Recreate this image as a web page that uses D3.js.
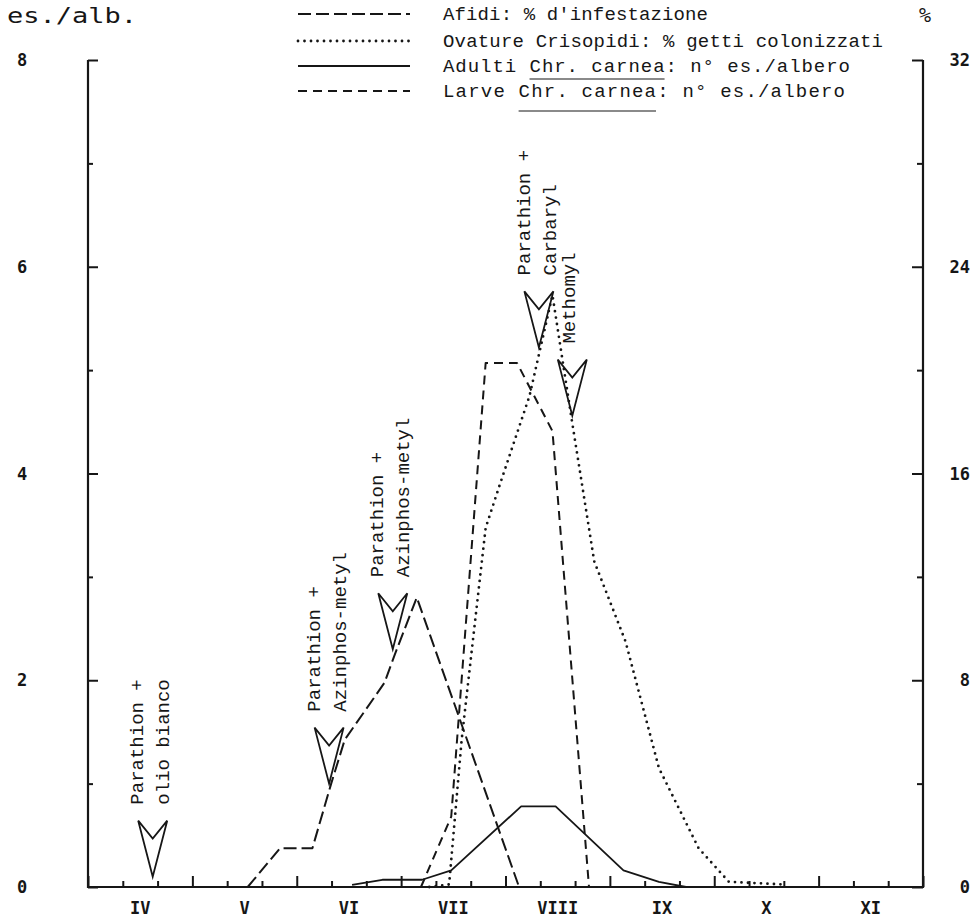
<!DOCTYPE html>
<html>
<head>
<meta charset="utf-8">
<script src="https://cdn.jsdelivr.net/npm/d3@7/dist/d3.min.js"></script>
<style>
  html, body { margin: 0; padding: 0; background: #fff; }
  svg { display: block; }
</style>
</head>
<body>
<svg id="chart" width="973" height="919"></svg>
<script>
// ---------------- DATA ----------------
// x values: month number (4 = 1 April ... 12 = 1 December)
const monthLabels = ["IV", "V", "VI", "VII", "VIII", "IX", "X", "XI"];
const leftTicks = [0, 2, 4, 6, 8];
const rightTicks = [0, 8, 16, 24, 32];

// Afidi: % d'infestazione (right axis, %)
const afidiX = [5.53, 5.84, 6.15, 6.33, 6.46, 6.84, 6.94, 7.15, 8.13];
const afidiY = [0, 1.5, 1.5, 4.0, 5.7, 7.9, 9.0, 11.2, 0];

// Ovature Crisopidi: % getti colonizzati (right axis, %)
const ovatureX = [7.27, 7.46, 7.58, 7.81, 7.94, 8.23, 8.45, 8.63, 8.85, 9.15, 9.47, 9.85, 10.14, 10.66];
const ovatureY = [0, 0.1, 5.7, 13.9, 15.5, 19.0, 22.9, 18.2, 12.6, 9.5, 4.6, 1.5, 0.2, 0.1];

// Adulti Chr. carnea: n° es./albero (left axis)
const adultiX = [6.53, 6.82, 7.20, 7.48, 8.15, 8.48, 9.13, 9.47, 9.73];
const adultiY = [0.02, 0.07, 0.07, 0.16, 0.78, 0.78, 0.16, 0.05, 0.0];

// Larve Chr. carnea: n° es./albero (left axis)
const larveX = [7.19, 7.48, 7.81, 8.11, 8.45, 8.80];
const larveY = [0, 0.68, 5.07, 5.07, 4.41, 0];

// Treatments (arrow tip position: month, left-axis value)
const treatX = [4.62, 6.31, 6.92, 8.32, 8.64];
const treatTip = [0.1, 1.0, 2.3, 5.22, 4.56];
const treatLine1 = ["Parathion +", "Parathion +", "Parathion +", "Parathion +", "Methomyl"];
const treatLine2 = ["olio bianco", "Azinphos-metyl", "Azinphos-metyl", "Carbaryl", ""];

const legendLabels = [
  ["Afidi: % d'infestazione"],
  ["Ovature Crisopidi: % getti colonizzati"],
  ["Adulti ", "Chr. carnea", ": n° es./albero"],
  ["Larve ", "Chr. carnea", ": n° es./albero"]
];

// ---------------- LAYOUT ----------------
const svg = d3.select("#chart");
const X0 = 88, X1 = 923, Y0 = 887, Y1 = 60;
const x = d3.scaleLinear().domain([4, 12]).range([X0, X1]);
const yL = d3.scaleLinear().domain([0, 8]).range([Y0, Y1]);
const yR = d3.scaleLinear().domain([0, 32]).range([Y0, Y1]);

const ink = "#161616";
const monoB = "'DejaVu Sans Mono', monospace";
const typeW = "'Liberation Mono', 'Courier New', monospace";

svg.append("rect").attr("width", 973).attr("height", 919).attr("fill", "#fff");

// ---------------- AXES ----------------
const gL = svg.append("g").attr("transform", `translate(${X0},0)`)
  .call(d3.axisRight(yL).tickValues(d3.range(0, 9, 1)).tickSize(0).tickFormat(""));
gL.select(".domain").remove();
gL.selectAll(".tick line").attr("x2", d => d % 2 === 0 ? 10 : 5)
  .attr("stroke", ink).attr("stroke-width", 2);

const gR = svg.append("g").attr("transform", `translate(${X1},0)`)
  .call(d3.axisLeft(yR).tickValues(d3.range(0, 33, 4)).tickSize(0).tickFormat(""));
gR.select(".domain").remove();
gR.selectAll(".tick line").attr("x2", d => d % 8 === 0 ? -11 : -6)
  .attr("stroke", ink).attr("stroke-width", 2);

const gX = svg.append("g").attr("transform", `translate(0,${Y0})`)
  .call(d3.axisTop(x).tickValues(d3.range(4, 12.01, 1 / 3)).tickSize(0).tickFormat(""));
gX.select(".domain").remove();
gX.selectAll(".tick line").attr("y2", d => Math.abs(d - Math.round(d)) < 0.01 ? -11 : -6)
  .attr("stroke", ink).attr("stroke-width", 2);

// frame lines (left, bottom, right)
svg.append("path")
  .attr("d", `M${X0},${Y1}V${Y0}H${X1}V${Y1}`)
  .attr("fill", "none").attr("stroke", ink).attr("stroke-width", 2.2);

// tick labels
svg.append("g").selectAll("text").data(leftTicks).join("text")
  .attr("x", 22).attr("y", d => yL(d)).attr("dy", "0.36em")
  .attr("text-anchor", "middle")
  .attr("font-family", monoB).attr("font-weight", "bold").attr("font-size", 17)
  .attr("fill", ink).text(d => d);

svg.append("g").selectAll("text").data(rightTicks).join("text")
  .attr("x", 970).attr("y", d => yR(d)).attr("dy", "0.36em")
  .attr("text-anchor", "end")
  .attr("font-family", monoB).attr("font-weight", "bold").attr("font-size", 17)
  .attr("fill", ink).text(d => d);

svg.append("g").selectAll("text").data(monthLabels).join("text")
  .attr("x", (d, i) => x(4.5 + i)).attr("y", 914)
  .attr("text-anchor", "middle")
  .attr("font-family", monoB).attr("font-weight", "bold").attr("font-size", 17)
  .attr("fill", ink).text(d => d);

// axis titles
svg.append("text").attr("x", 7).attr("y", 23)
  .attr("font-family", monoB).attr("font-size", 21)
  .attr("textLength", 130).attr("lengthAdjust", "spacingAndGlyphs")
  .attr("fill", ink).text("es./alb.");
svg.append("text").attr("x", 925).attr("y", 22).attr("text-anchor", "middle")
  .attr("font-family", monoB).attr("font-size", 20)
  .attr("fill", ink).text("%");

// ---------------- SERIES ----------------
function drawSeries(xs, ys, yScale, dash, width, cap) {
  const pts = xs.map((v, i) => [v, ys[i]]);
  const line = d3.line().x(d => x(d[0])).y(d => yScale(d[1]));
  svg.append("path").datum(pts)
    .attr("d", line)
    .attr("fill", "none")
    .attr("stroke", ink)
    .attr("stroke-width", width)
    .attr("stroke-linecap", cap || "butt")
    .attr("stroke-linejoin", "round")
    .attr("stroke-dasharray", dash);
}
const styles = [
  { dash: "13,5", w: 2, cap: "butt" },     // Afidi
  { dash: "0,6.5", w: 2.8, cap: "round" },  // Ovature
  { dash: null, w: 1.8, cap: "butt" },     // Adulti
  { dash: "9,6", w: 2, cap: "butt" }       // Larve
];
drawSeries(afidiX, afidiY, yR, styles[0].dash, styles[0].w, styles[0].cap);
drawSeries(ovatureX, ovatureY, yR, styles[1].dash, styles[1].w, styles[1].cap);
drawSeries(adultiX, adultiY, yL, styles[2].dash, styles[2].w, styles[2].cap);
drawSeries(larveX, larveY, yL, styles[3].dash, styles[3].w, styles[3].cap);

// ---------------- TREATMENT ARROWS ----------------
const arrowW = 14.5, arrowH = 56, notch = 38;
treatX.forEach((tx, i) => {
  const px = x(tx), py = yL(treatTip[i]);
  svg.append("path")
    .attr("d", `M${px - arrowW},${py - arrowH}L${px},${py}L${px + arrowW},${py - arrowH}L${px},${py - notch}Z`)
    .attr("fill", "none").attr("stroke", ink).attr("stroke-width", 1.8)
    .attr("stroke-linejoin", "miter");
  const bottom = py - arrowH - 16;
  const lines = treatLine2[i] ? [[treatLine1[i], -16], [treatLine2[i], 10]] : [[treatLine1[i], -4]];
  lines.forEach(([t, off]) => {
    svg.append("text")
      .attr("transform", `translate(${px + off},${bottom}) rotate(-90)`)
      .attr("dy", "0.35em")
      .attr("font-family", typeW).attr("font-size", 19)
      .attr("fill", ink).text(t);
  });
});

// ---------------- LEGEND ----------------
const legBase = [20, 47, 72, 97];
const legEnd = [708, 883, 850, 845];
const ulOff = [0, 0, 7, 14];
legendLabels.forEach((parts, i) => {
  const st = styles[i];
  svg.append("line")
    .attr("x1", 298).attr("x2", 410)
    .attr("y1", legBase[i] - 6).attr("y2", legBase[i] - 6)
    .attr("stroke", ink).attr("stroke-width", st.w)
    .attr("stroke-linecap", st.cap).attr("stroke-dasharray", st.dash);
  const t = svg.append("text")
    .attr("x", 443).attr("y", legBase[i])
    .attr("font-family", typeW).attr("font-size", 19)
    .attr("textLength", legEnd[i] - 443).attr("lengthAdjust", "spacing")
    .attr("fill", ink).text(parts.join(""));
  if (parts.length > 1) {
    const node = t.node();
    const s = parts[0].length, e = s + parts[1].length - 1;
    const xs = node.getStartPositionOfChar(s).x;
    const xe = node.getEndPositionOfChar(e).x;
    svg.append("line")
      .attr("x1", xs).attr("x2", xe)
      .attr("y1", legBase[i] + ulOff[i]).attr("y2", legBase[i] + ulOff[i])
      .attr("stroke", ink).attr("stroke-width", 1.2);
  }
});
</script>
</body>
</html>
